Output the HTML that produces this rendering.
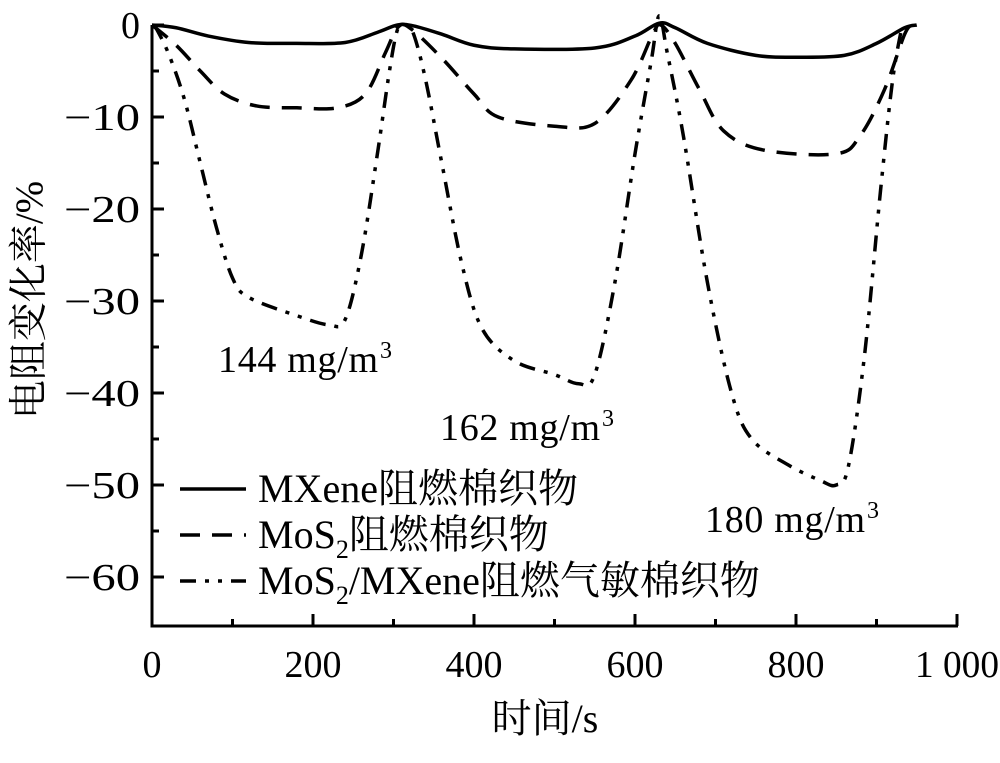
<!DOCTYPE html>
<html><head><meta charset="utf-8">
<style>
html,body{margin:0;padding:0;background:#fff;}
svg text{font-family:"Liberation Serif","Noto Serif CJK SC",serif;fill:#000;}
</style></head>
<body>
<svg id="s" width="1000" height="758" viewBox="0 0 1000 758" xmlns="http://www.w3.org/2000/svg">
<g stroke="#000" stroke-width="3" fill="none">
<line x1="152" y1="25" x2="152" y2="627"/>
<line x1="150.5" y1="626" x2="958" y2="626"/>
</g>
<g id="ticks" stroke="#000" stroke-width="3"></g>
<g font-size="38" text-anchor="end" id="yl"></g>
<g font-size="38" text-anchor="middle" id="xl"></g>
<g id="curves" fill="none" stroke="#000" stroke-width="3.5" stroke-linejoin="round"></g>
<text x="218" y="372" font-size="38" textLength="160">144 mg/m</text><text x="380" y="358" font-size="24">3</text>
<text x="440" y="440" font-size="38" textLength="160">162 mg/m</text><text x="602" y="426" font-size="24">3</text>
<text x="705" y="532" font-size="38" textLength="160">180 mg/m</text><text x="867" y="518" font-size="24">3</text>
<g stroke="#000" stroke-width="3.5">
<line x1="180" y1="489" x2="246" y2="489"/>
<line x1="180" y1="535" x2="246" y2="535" stroke-dasharray="20 12"/>
<line x1="180" y1="581" x2="246" y2="581" stroke-dasharray="16 9 4 9 4 9"/>
</g>
<text x="258" y="502" font-size="40">MXene阻燃棉织物</text>
<text x="258" y="548" font-size="40">MoS<tspan font-size="26" dy="10">2</tspan><tspan dy="-10">阻燃棉织物</tspan></text>
<text x="258" y="594" font-size="40">MoS<tspan font-size="26" dy="10">2</tspan><tspan dy="-10">/MXene阻燃气敏棉织物</tspan></text>
<text x="545" y="732" font-size="40" text-anchor="middle">时间/s</text>
<text transform="translate(42,300) rotate(-90)" font-size="39" text-anchor="middle">电阻变化率/%</text>
</svg>
<script>
var NS="http://www.w3.org/2000/svg";
function X(t){return 152+0.805*t}function Y(v){return 25-9.2*v}
function el(p,n,a){var e=document.createElementNS(NS,n);for(var k in a)e.setAttribute(k,a[k]);p.appendChild(e);return e}
var tk=document.getElementById('ticks'),yl=document.getElementById('yl'),xl=document.getElementById('xl');
for(var v=0;v>=-60;v-=5){var y=Y(v);el(tk,'line',{x1:152,y1:y,x2:v%10==0?164:159,y2:y});
if(v%10==0){var a={x:140,y:y+13};if(v!=0){a.textLength=76;a.lengthAdjust='spacingAndGlyphs';}var t=el(yl,'text',a);t.textContent=v==0?'0':'\u2212'+(-v);}}
for(var s=100;s<=1000;s+=100){var x=X(s);el(tk,'line',{x1:x,y1:626,x2:x,y2:s%200==0?614:619});}
for(var s=0;s<=1000;s+=200){var a={x:X(s),y:677};if(s==1000){a.textLength=84;a.lengthAdjust='spacingAndGlyphs';}var t=el(xl,'text',a);t.textContent=s==1000?'1 000':s;}
function path(d,da){var pts=d.map(function(p){return [X(p[0]),Y(p[1])]});
var s='M'+pts[0][0]+','+pts[0][1];
for(var i=0;i<pts.length-1;i++){var p0=pts[Math.max(i-1,0)],p1=pts[i],p2=pts[i+1],p3=pts[Math.min(i+2,pts.length-1)];
s+=' C'+(p1[0]+(p2[0]-p0[0])/6)+','+(p1[1]+(p2[1]-p0[1])/6)+' '+(p2[0]-(p3[0]-p1[0])/6)+','+(p2[1]-(p3[1]-p1[1])/6)+' '+p2[0]+','+p2[1];}
var a={d:s};if(da)a['stroke-dasharray']=da;el(document.getElementById('curves'),'path',a);}
path([[0,0],[30,-0.3],[70,-1.2],[120,-1.9],[180,-2],[240,-1.9],[280,-0.8],[305,0],[325,-0.1],[360,-1],[400,-2.2],[450,-2.6],[550,-2.5],[600,-1.2],[630,0.2],[650,-0.3],[690,-2],[750,-3.3],[800,-3.5],[860,-3.3],[900,-2],[935,-0.3],[950,0]]);
path([[0,0],[30,-2.2],[60,-5],[90,-7.5],[130,-8.8],[180,-9],[230,-9],[265,-7.5],[290,-3],[305,-0.3],[320,-0.3],[360,-3.6],[400,-7.5],[430,-10],[500,-11],[550,-10.7],[595,-6],[622,-1],[632,0],[650,-2],[680,-7],[710,-11.5],[760,-13.6],[850,-14],[880,-12],[910,-7],[935,-1],[945,0]],'20 12');
path([[3,0],[20,-3],[40,-8],[60,-15],[80,-22],[100,-27.5],[120,-29.6],[180,-31.6],[220,-32.6],[240,-32],[260,-25],[280,-14],[295,-5],[305,-0.5],[315,0],[325,-1],[340,-6],[360,-15],[385,-26],[410,-33],[450,-36.5],[500,-38],[530,-39],[550,-38],[575,-28],[600,-14],[620,-4],[630,1],[640,-3],[660,-12],[690,-28],[720,-40],[745,-45],[790,-47.8],[830,-49.5],[850,-50],[865,-48],[885,-36],[905,-18],[920,-6],[932,0]],'16 9 4 9 4 9');
</script>
</body></html>
